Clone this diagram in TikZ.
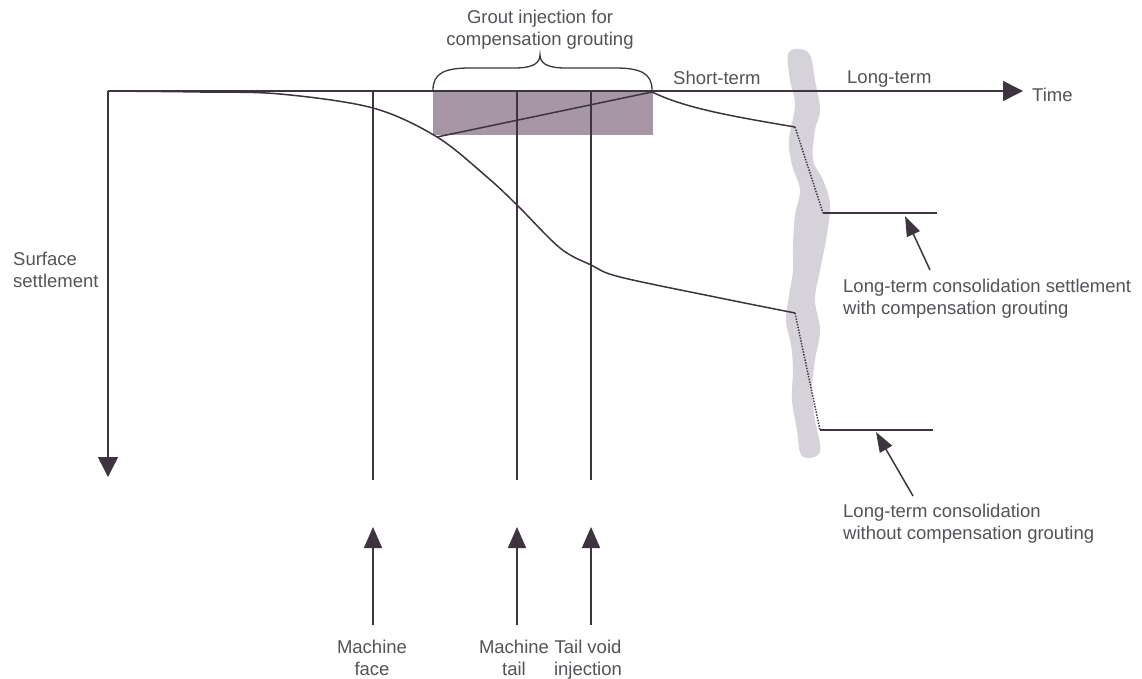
\documentclass[tikz,border=0pt]{standalone}
\usepackage{fontspec}
\setmainfont{Liberation Sans}
\usetikzlibrary{arrows.meta}
\definecolor{ink}{RGB}{62,52,64}
\definecolor{txt}{RGB}{85,82,88}
\definecolor{grout}{RGB}{166,150,166}
\definecolor{bandcol}{RGB}{214,210,218}
\tikzset{
  line/.style={draw=ink,line width=1.5pt},
  lbl/.style={text=txt,font=\fontsize{18.5}{22}\selectfont,inner sep=0pt},
  bigtip/.style={-{Triangle[length=20pt,width=20pt]}},
  uptip/.style={-{Triangle[length=21pt,width=18pt]}},
  pointer/.style={-{Triangle[length=20pt,width=14pt]}},
  dotline/.style={draw=ink,line width=1.5pt,dash pattern=on 1.4pt off 1.4pt},
}
\begin{document}
\begin{tikzpicture}[x=1pt,y=-1pt]
\useasboundingbox (0,0) rectangle (1142,679);
\fill[white] (0,0) rectangle (1142,679);
% wavy break band
\fill[bandcol] plot[smooth cycle, tension=0.6] coordinates {
 (788,54) (790,80) (795,105) (789,140) (792,165) (800,190) (795,215)
 (793,245) (793,270) (790,290) (786,320) (791,345) (793,370) (792,400)
 (797,430) (802,456) (820,452) (815,420) (812,390) (815,360) (820,330)
 (815,300) (820,270) (826,240) (830,205) (823,180) (813,160) (815,130)
 (820,110) (815,80) (810,55) (799,49)};
% grout injection zone
\fill[grout] (433,92) rectangle (653,135);
% axes
\coordinate (O) at (108,91);
\coordinate (T) at (1023,91);
\coordinate (S) at (108,477);
\draw[line,bigtip] (O) -- (T);
\draw[line,bigtip] (O) -- (S);
% vertical event lines
\coordinate (f1) at (373,91); \coordinate (f2) at (373,480);
\coordinate (t1) at (517,91); \coordinate (t2) at (517,480);
\coordinate (v1) at (591,91); \coordinate (v2) at (591,480);
\draw[line,line width=1.3pt] (f1) -- (f2);
\draw[line,line width=1.3pt] (t1) -- (t2);
\draw[line,line width=1.3pt] (v1) -- (v2);
% settlement curve without grouting
\coordinate (lowEnd) at (795,313);
\draw[line] plot[smooth,tension=0.55] coordinates {(108,91) (200,92) (280,94) (373,108) (437,137) (487,177) (517,205) (560,248) (591,265) (620,277) (720,298) (795,313)};
% curve with compensation grouting
\coordinate (gStart) at (437,137);
\coordinate (gEnd) at (652,92);
\coordinate (upEnd) at (795,127);
\draw[line] (gStart) -- (gEnd) .. controls (685,108) and (730,116) .. (upEnd);
% long-term levels
\coordinate (upLT) at (823,213); \coordinate (upLTr) at (937,213);
\coordinate (loLT) at (820,430); \coordinate (loLTr) at (933,430);
\draw[dotline] (upEnd) -- (upLT);
\draw[line] (upLT) -- (upLTr);
\draw[dotline] (lowEnd) -- (loLT);
\draw[line] (loLT) -- (loLTr);
% brace
\draw[line,line width=1.3pt] (433,90) .. controls (433,73) and (445,68) .. (470,68) -- (515,68)
  .. controls (533,68) and (540,63) .. (540,55)
  .. controls (540,63) and (547,68) .. (565,68) -- (615,68)
  .. controls (640,68) and (652,73) .. (652,90);
% labels
\node[lbl,align=center,anchor=north] (grout) at (540,9.5) {Grout injection for\\compensation grouting};
\node[lbl,anchor=base west] (st) at (673,85) {Short-term};
\node[lbl,anchor=base west] (lt) at (847,84) {Long-term};
\node[lbl,anchor=base west] (time) at (1032,102) {Time};
\node[lbl,align=left,anchor=north west] (surf) at (13,252) {Surface\\settlement};
\node[lbl,align=left,anchor=north west] (with) at (843,278.5) {Long-term consolidation settlement\\with compensation grouting};
\node[lbl,align=left,anchor=north west] (without) at (843,503.5) {Long-term consolidation\\without compensation grouting};
\node[lbl,align=center,anchor=north] (face) at (372,639.5) {Machine\\face};
\node[lbl,align=center,anchor=north] (tail) at (514,639.5) {Machine\\tail};
\node[lbl,align=center,anchor=north] (void) at (588,639.5) {Tail void\\injection};
% pointer arrows
\coordinate (p1) at (930,270); \coordinate (p1t) at (905,216);
\coordinate (p2) at (913,496); \coordinate (p2t) at (876,432);
\draw[line,pointer] (p1) -- (p1t);
\draw[line,pointer] (p2) -- (p2t);
% event arrows
\coordinate (a1) at (373,625); \coordinate (a1t) at (373,527);
\coordinate (a2) at (517,625); \coordinate (a2t) at (517,527);
\coordinate (a3) at (591,625); \coordinate (a3t) at (591,527);
\draw[line,uptip] (a1) -- (a1t);
\draw[line,uptip] (a2) -- (a2t);
\draw[line,uptip] (a3) -- (a3t);
\end{tikzpicture}
\end{document}
